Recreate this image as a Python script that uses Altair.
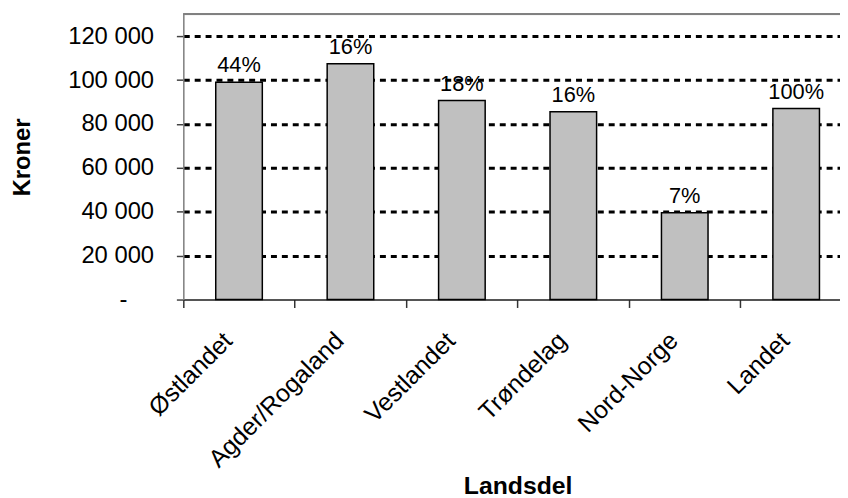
import altair as alt
import pandas as pd

regions = ["Østlandet", "Agder/Rogaland", "Vestlandet", "Trøndelag", "Nord-Norge", "Landet"]
kroner = [99000, 107500, 90700, 85600, 39600, 87100]
shares = ["44%", "16%", "18%", "16%", "7%", "100%"]
y_ticks = [0, 20000, 40000, 60000, 80000, 100000, 120000]

df = pd.DataFrame({"Landsdel": regions, "Kroner": kroner, "Andel": shares})

FONT = "Liberation Sans"

x_enc = alt.X(
    "Landsdel:N",
    sort=regions,
    scale=alt.Scale(range=[0, 675], paddingInner=0, paddingOuter=0),
    axis=alt.Axis(
        title="Landsdel",
        labelAngle=-45,
        labelAlign="right",
        labelBaseline="middle",
        labelFont=FONT,
        labelFontSize=25,
        labelColor="black",
        labelPadding=29,
        labelOffset=-11,
        labelLimit=0,
        bandPosition=0,
        tickSize=8,
        tickColor="#333333",
        tickWidth=1.5,
        domainColor="#222222",
        domainWidth=1.5,
        titleFont=FONT,
        titleFontSize=25,
        titleFontWeight="bold",
        titleColor="black",
        titleX=337.5,
        titleY=196,
        titleAlign="center",
        titleBaseline="alphabetic",
        grid=False,
    ),
)

y_enc = alt.Y(
    "Kroner:Q",
    scale=alt.Scale(domain=[0, 130000], nice=False, zero=True),
    axis=alt.Axis(
        values=y_ticks,
        labelExpr="datum.value == 0 ? '-' : replace(format(datum.value, ','), ',', ' ')",
        labelFont=FONT,
        labelFontSize=24,
        labelColor="black",
        labelPadding={"condition": {"test": "datum.value === 0", "value": 50}, "value": 23},
        tickSize=7,
        tickColor="#444444",
        tickWidth=1.5,
        domainColor="#808080",
        domainWidth=1.5,
        grid=True,
        gridColor="black",
        gridDash=[6, 5],
        gridWidth=3,
        gridOpacity={"condition": {"test": "datum.value === 0", "value": 0}, "value": 1},
        title="Kroner",
        titleFont=FONT,
        titleFontSize=24,
        titleFontWeight="bold",
        titleColor="black",
        titleX=-162,
        titleY=144,
        titleAngle=-90,
        titleAlign="center",
        titleBaseline="middle",
    ),
)

base = alt.Chart(df)

bars = base.mark_bar(
    width=alt.RelativeBandSize(0.418),
    fill="#c0c0c0",
    stroke="black",
    strokeWidth=1.5,
).encode(x=x_enc, y=y_enc)

labels = base.mark_text(
    font=FONT, fontSize=22, color="black", baseline="alphabetic", dy=-10
).encode(x=alt.X("Landsdel:N", sort=regions), y=alt.Y("Kroner:Q"), text="Andel:N")

top_border = base.mark_rule(color="#808080", strokeWidth=1.5).encode(
    x=alt.value(0), x2=alt.value(675), y=alt.value(0)
)

chart = (
    alt.layer(bars, labels, top_border)
    .properties(
        width=663,
        height=288,
        autosize=alt.AutoSizeParams(type="none"),
        padding={"left": 177, "top": 4, "right": 0, "bottom": 198},
    )
    .configure_view(stroke=None)
    .configure(background="white")
)

chart.save("out.html", embed_options={"renderer": "svg", "actions": False})
